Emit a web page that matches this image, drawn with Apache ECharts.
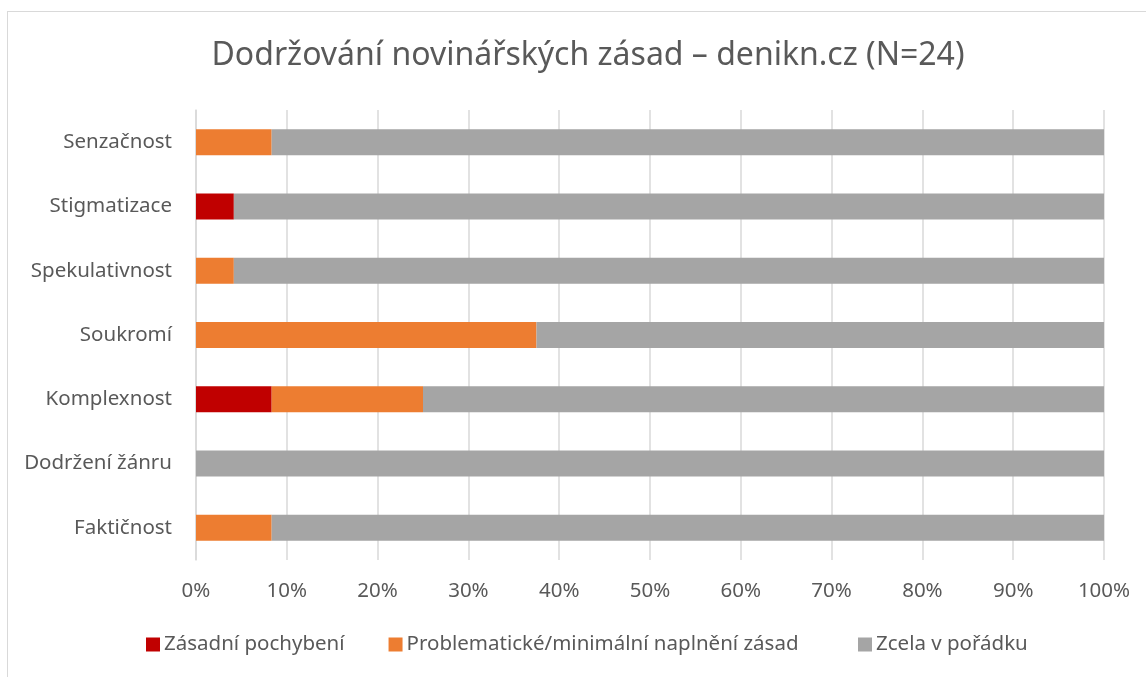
<!DOCTYPE html>
<html>
<head>
<meta charset="utf-8">
<script src="https://cdn.jsdelivr.net/npm/echarts@6/dist/echarts.min.js"></script>
<style>
html,body{margin:0;padding:0;background:#fff;}
#frame{position:absolute;left:7px;top:11px;width:1160px;height:700px;border:1px solid #d9d9d9;}
#chart{position:absolute;left:0;top:0;width:1146px;height:677px;}
</style>
</head>
<body>
<div id="frame"></div>
<div id="chart"></div>
<script>
// kategorie odspodu nahoru (osa y v ECharts jde zdola)
var categories = ['Faktičnost','Dodržení žánru','Komplexnost','Soukromí','Spekulativnost','Stigmatizace','Senzačnost']
var seriesNames = ['Zásadní pochybení','Problematické/minimální naplnění zásad','Zcela v pořádku']
// pocty clanku (N=24)
var zasadni = [0,0,2,0,0,1,0]
var problematicke = [2,0,4,9,1,0,2]
var vporadku = [22,24,18,15,23,23,22]
var xTicks = [0,10,20,30,40,50,60,70,80,90,100]
var colors = ['#c00000','#ed7d31','#a5a5a5']

var N = 24
function pct(arr){
    return arr.map(function(v){ return v / N * 100 })
}

var chart = echarts.init(document.getElementById('chart'))
var font = 'Noto Sans'
var fs = 20.5
var legendBase = {
    top:629,
    itemWidth:14,
    itemHeight:14,
    itemGap:44,
    icon:'rect',
    textStyle:{fontFamily:font,fontSize:fs,color:'#595959',padding:[0,0,0,-1]}
}
var option = {
    animation:false,
    title:{
        text:'Dodržování novinářských zásad – denikn.cz (N=24)',
        left:583,
        textAlign:'center',
        top:35,
        textStyle:{fontFamily:font,fontSize:32,fontWeight:'normal',color:'#595959'}
    },
    // legenda rozdelena na dve casti kvuli roztecim jako v originale
    legend:[
        Object.assign({left:141,data:seriesNames.slice(0,2)},legendBase),
        Object.assign({left:853,data:seriesNames.slice(2)},legendBase)
    ],
    grid:{left:196,right:42,top:110,bottom:117,containLabel:false},
    xAxis:{
        type:'value',
        min:0,max:100,interval:10,
        axisLine:{show:false},
        axisTick:{show:false},
        splitLine:{lineStyle:{color:'#d9d9d9',width:1.5}},
        axisLabel:{
            fontFamily:font,fontSize:fs,color:'#595959',margin:21,
            formatter:function(v){ return v + '%' }
        }
    },
    yAxis:{
        type:'category',
        data:categories,
        axisLine:{show:true,lineStyle:{color:'#d9d9d9',width:1.5}},
        axisTick:{show:false},
        axisLabel:{fontFamily:font,fontSize:fs,color:'#595959',margin:24}
    },
    series:[
        {name:seriesNames[0],type:'bar',stack:'a',barWidth:26,data:pct(zasadni),itemStyle:{color:colors[0]}},
        {name:seriesNames[1],type:'bar',stack:'a',barWidth:26,data:pct(problematicke),itemStyle:{color:colors[1]}},
        {name:seriesNames[2],type:'bar',stack:'a',barWidth:26,data:pct(vporadku),itemStyle:{color:colors[2]}}
    ]
}
chart.setOption(option)
</script>
</body>
</html>
